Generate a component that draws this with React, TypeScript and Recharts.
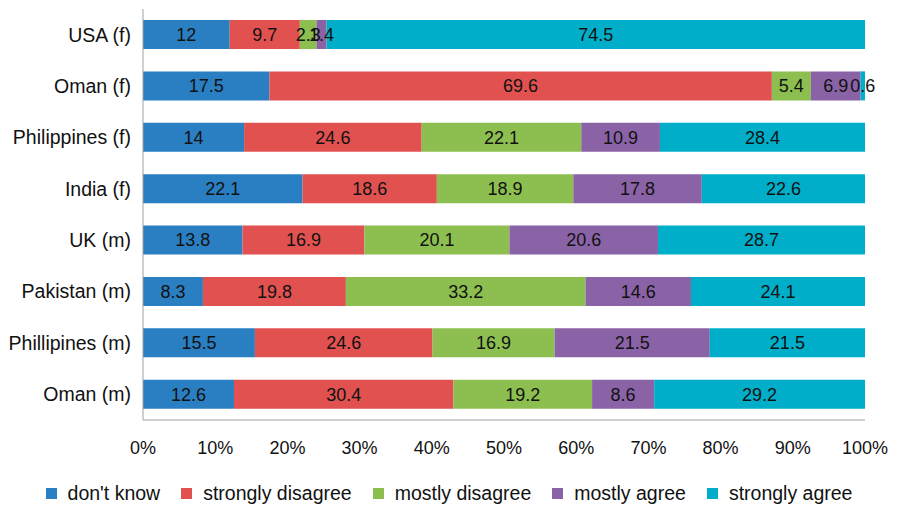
import { Bar, BarChart, LabelList, XAxis, YAxis } from 'recharts';

const countries = [
  'USA (f)',
  'Oman (f)',
  'Philippines (f)',
  'India (f)',
  'UK (m)',
  'Pakistan (m)',
  'Phillipines (m)',
  'Oman (m)'
];

const dontKnow = [12, 17.5, 14, 22.1, 13.8, 8.3, 15.5, 12.6];
const stronglyDisagree = [9.7, 69.6, 24.6, 18.6, 16.9, 19.8, 24.6, 30.4];
const mostlyDisagree = [2.3, 5.4, 22.1, 18.9, 20.1, 33.2, 16.9, 19.2];
const mostlyAgree = [1.4, 6.9, 10.9, 17.8, 20.6, 14.6, 21.5, 8.6];
const stronglyAgree = [74.5, 0.6, 28.4, 22.6, 28.7, 24.1, 21.5, 29.2];

const xTicks = [0, 0.1, 0.2, 0.3, 0.4, 0.5, 0.6, 0.7, 0.8, 0.9, 1];

const series = [
  { key: 'dontKnow', name: "don't know", color: '#2a7fc3', values: dontKnow },
  { key: 'stronglyDisagree', name: 'strongly disagree', color: '#e05150', values: stronglyDisagree },
  { key: 'mostlyDisagree', name: 'mostly disagree', color: '#8cbf4f', values: mostlyDisagree },
  { key: 'mostlyAgree', name: 'mostly agree', color: '#8a63a7', values: mostlyAgree },
  { key: 'stronglyAgree', name: 'strongly agree', color: '#00aec9', values: stronglyAgree }
];

const data = countries.map((country, i) => {
  const row: Record<string, string | number> = { country };
  series.forEach((s) => {
    row[s.key] = s.values[i];
  });
  return row;
});

const font = '"Liberation Sans", Arial, sans-serif';

export default function App() {
  return (
    <div style={{ width: 882, fontFamily: font }}>
      <BarChart
        width={882}
        height={470}
        data={data}
        layout="vertical"
        stackOffset="expand"
        barSize={29}
        margin={{ top: 1, right: 25, bottom: 0, left: 0 }}
      >
        <XAxis
          type="number"
          domain={[0, 1]}
          ticks={xTicks}
          tickFormatter={(v: number) => `${Math.round(v * 100)}%`}
          height={58}
          stroke="#a0a0a0"
          tickLine={false}
          tickSize={0}
          tickMargin={21}
          tick={{ fill: '#111', fontSize: 18, fontFamily: font }}
          interval={0}
        />
        <YAxis
          type="category"
          dataKey="country"
          width={135}
          stroke="#a0a0a0"
          tickLine={false}
          tickSize={0}
          tickMargin={12}
          tick={{ fill: '#111', fontSize: 19.5, fontFamily: font }}
          interval={0}
        />
        {series.map((s) => (
          <Bar key={s.key} dataKey={s.key} name={s.name} stackId="a" fill={s.color} isAnimationActive={false}>
            <LabelList dataKey={s.key} position="center" fill="#111" fontSize={18} fontFamily={font} />
          </Bar>
        ))}
      </BarChart>
      <div
        style={{
          display: 'flex',
          justifyContent: 'center',
          alignItems: 'center',
          gap: 21,
          height: 30,
          fontSize: 19.5,
          color: '#111'
        }}
      >
        {series.map((s) => (
          <div key={s.key} style={{ display: 'flex', alignItems: 'center' }}>
            <span style={{ width: 11, height: 11, background: s.color, marginRight: 11, display: 'inline-block' }} />
            <span>{s.name}</span>
          </div>
        ))}
      </div>
    </div>
  );
}
